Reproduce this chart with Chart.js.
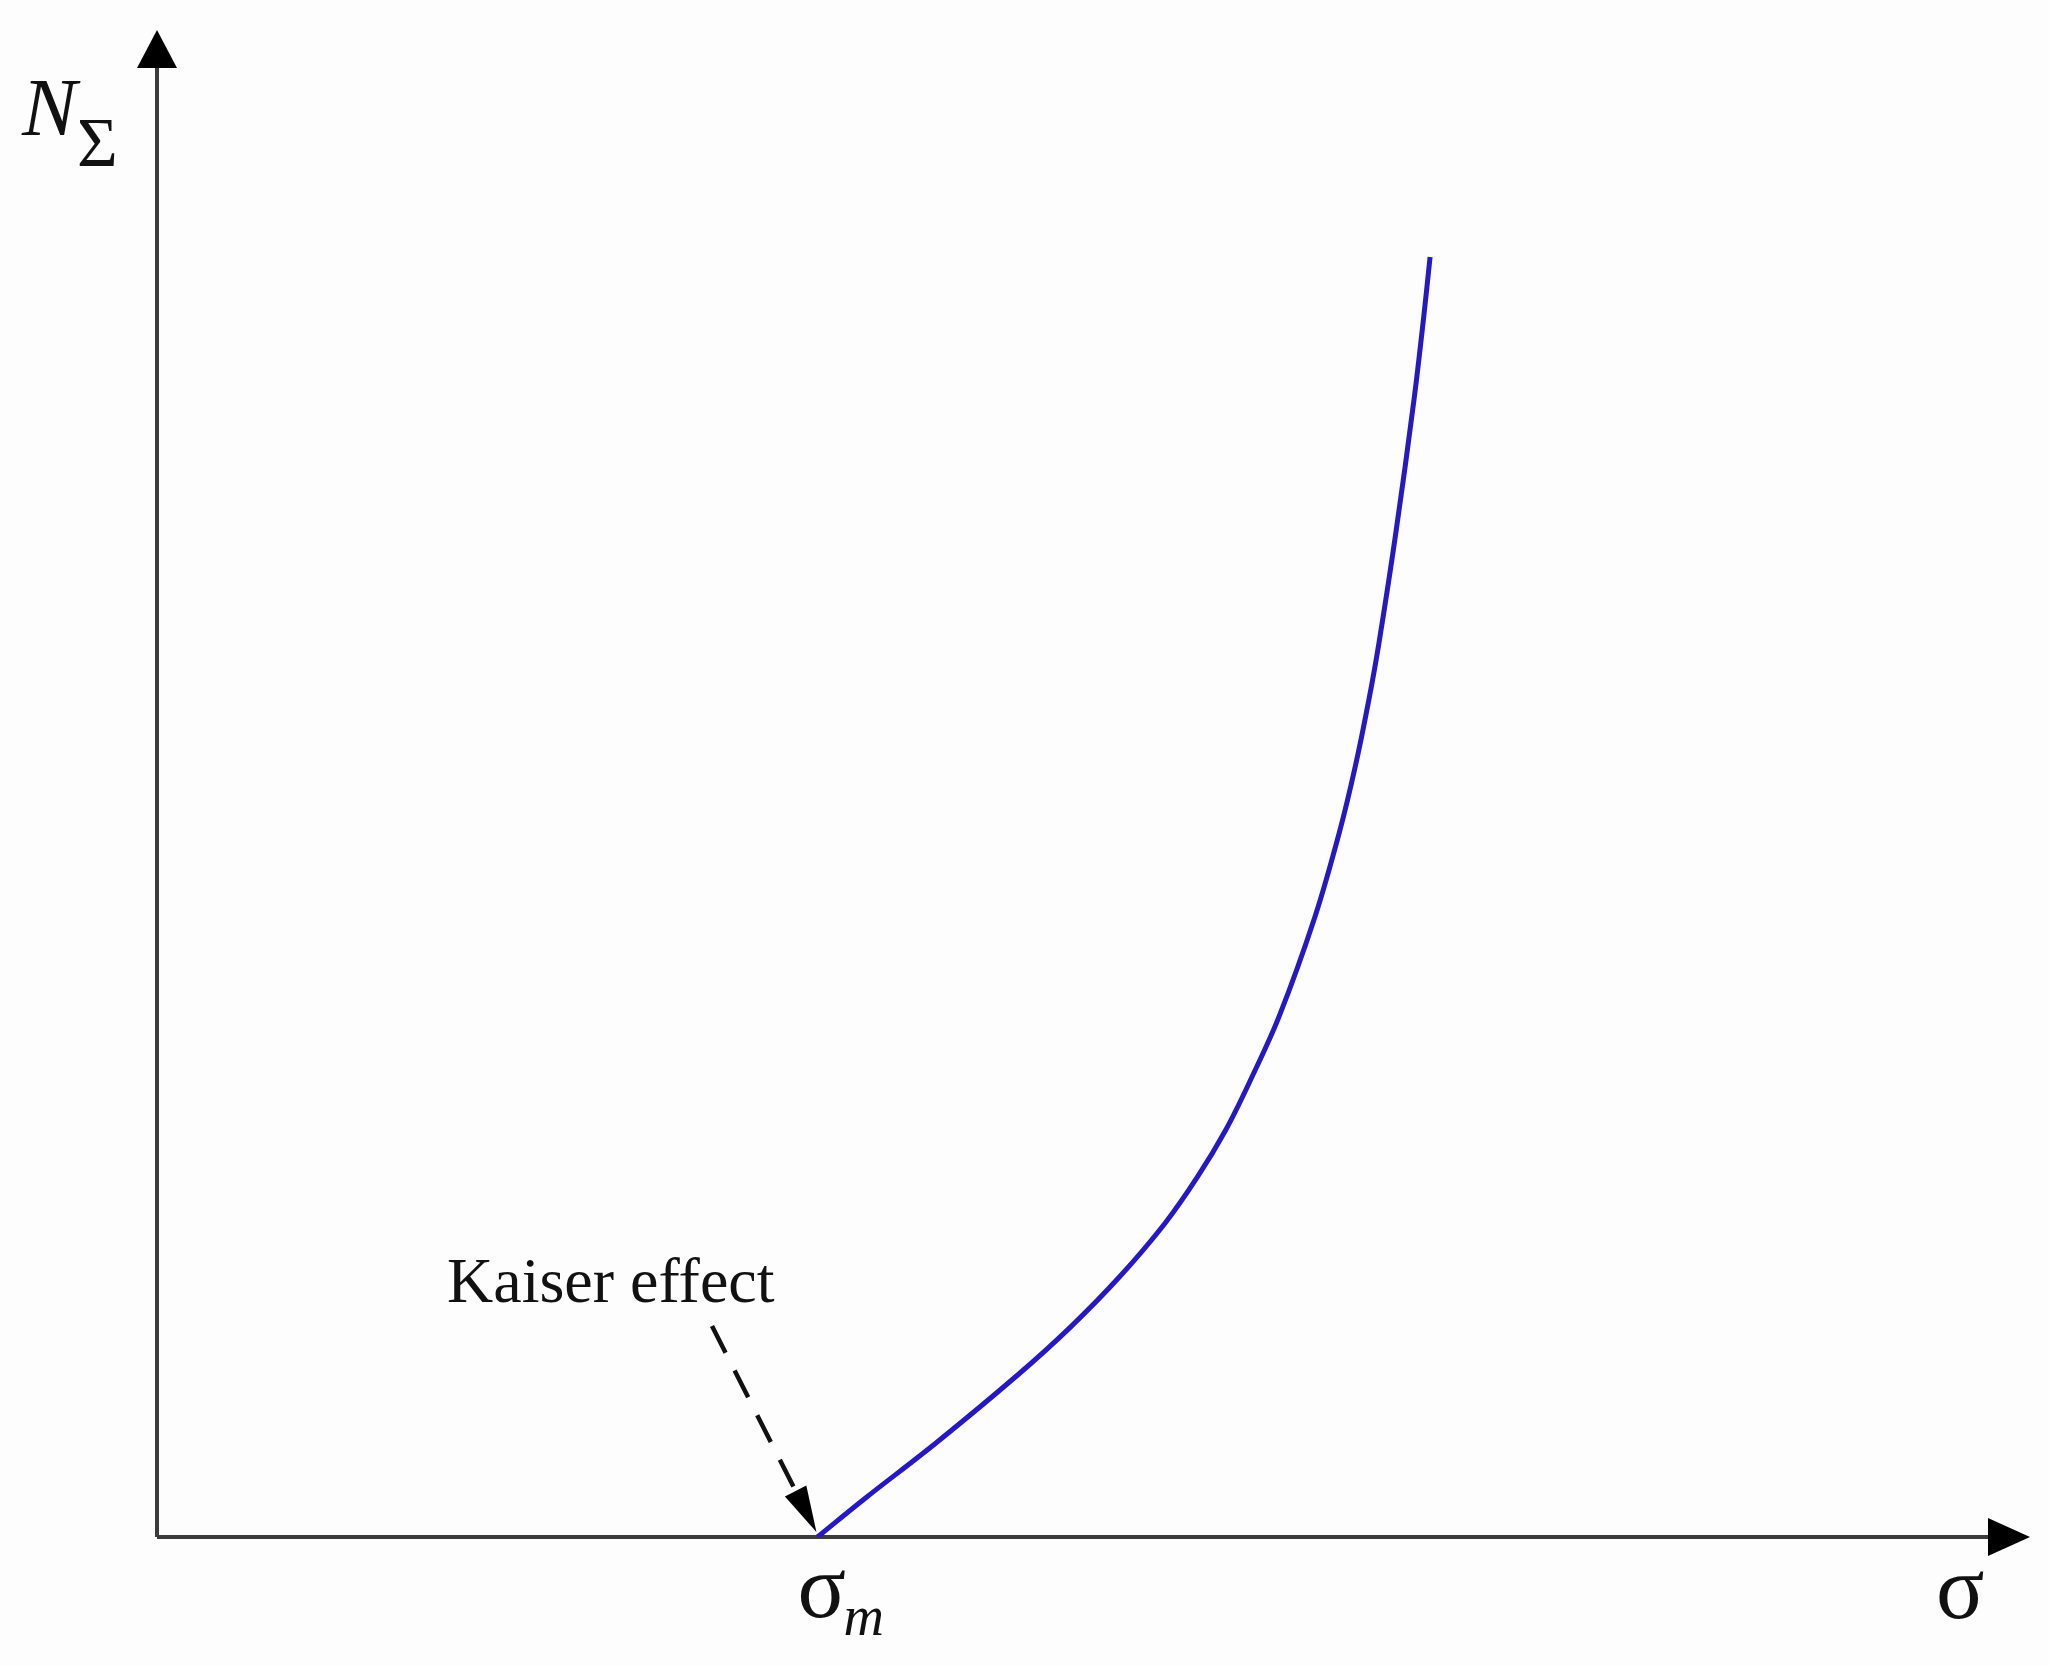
<!DOCTYPE html>
<html>
<head>
<meta charset="utf-8">
<title>Kaiser effect</title>
<script src="https://cdn.jsdelivr.net/npm/chart.js@4/dist/chart.umd.min.js"></script>
<style>
  html, body { margin: 0; padding: 0; background: #fdfdfd; }
  #chart { display: block; }
</style>
</head>
<body>
<canvas id="chart" width="2049" height="1665"></canvas>
<script>
"use strict";
// stress (x) and cumulative AE count (y)
const sigma = [35.26, 37.83, 41.59, 45.95, 48.77, 51.38, 53.83, 55.55, 57.06, 58.31, 59.90, 61.82, 63.12, 63.97, 64.70, 65.24, 66.14, 67.11, 67.63, 67.97];
const counts = [0, 2.59, 6.24, 10.75, 13.93, 17.25, 20.84, 23.89, 27.01, 30.13, 34.51, 41.14, 46.72, 51.09, 55.54, 59.32, 66.62, 75.45, 80.96, 84.94];
const sigmaMax = 100;
const countMax = 100;
const annotationText = "Kaiser effect";
const xLabel = "σ";
const markLabel = ["σ", "m"];
const yLabel = ["N", "Σ"];

const points = sigma.map((s, i) => ({ x: s, y: counts[i] }));

function arrowHead(ctx, tipX, tipY, angle, len, half) {
    ctx.save();
    ctx.translate(tipX, tipY);
    ctx.rotate(angle);
    ctx.beginPath();
    ctx.moveTo(0, 0);
    ctx.lineTo(-len, -half);
    ctx.lineTo(-len, half);
    ctx.closePath();
    ctx.fill();
    ctx.restore();
}

// axes with arrows, drawn under the curve
const axesPlugin = {
    id: "axesArrows",
    beforeDatasetsDraw(chart) {
        const { ctx, chartArea, scales } = chart;
        const x0 = scales.x.getPixelForValue(0);
        const y0 = scales.y.getPixelForValue(0);
        ctx.save();
        ctx.strokeStyle = "#3c3c3c";
        ctx.fillStyle = "#000";
        ctx.lineWidth = 4;
        ctx.beginPath();
        ctx.moveTo(x0, y0);
        ctx.lineTo(x0, chartArea.top + 37);
        ctx.moveTo(x0, y0);
        ctx.lineTo(chartArea.right - 42, y0);
        ctx.stroke();
        arrowHead(ctx, x0, chartArea.top, -Math.PI / 2, 38, 20);
        arrowHead(ctx, chartArea.right, y0, 0, 42, 19);
        ctx.restore();
    },
    afterDraw(chart) {
        const { ctx, chartArea, scales } = chart;
        const y0 = scales.y.getPixelForValue(0);
        const mx = scales.x.getPixelForValue(sigma[0]);
        const my = scales.y.getPixelForValue(counts[0]);
        ctx.save();
        ctx.fillStyle = "#111";
        ctx.textBaseline = "alphabetic";

        // N_Σ
        ctx.font = "italic 82px 'Liberation Serif'";
        ctx.fillText(yLabel[0], 22, 135);
        ctx.font = "70px 'Liberation Serif'";
        ctx.fillText(yLabel[1], 77, 166);

        // σ at the end of the x axis
        ctx.font = "90px 'Liberation Serif'";
        ctx.fillText(xLabel, chartArea.right - 94, y0 + 81);

        // σ_m under the start of the curve
        ctx.fillText(markLabel[0], mx - 20, y0 + 80);
        ctx.font = "italic 56px 'Liberation Serif'";
        ctx.fillText(markLabel[1], mx + 26, y0 + 98);

        // Kaiser effect annotation
        ctx.font = "64px 'Liberation Serif'";
        ctx.fillText(annotationText, 447, 1302);

        // dashed arrow down to σ_m
        const sx = 712, sy = 1326;
        const tipX = mx - 1, tipY = my - 5;
        const ang = Math.atan2(tipY - sy, tipX - sx);
        const headLen = 46;
        const ex = tipX - Math.cos(ang) * headLen;
        const ey = tipY - Math.sin(ang) * headLen;
        ctx.strokeStyle = "#111";
        ctx.lineWidth = 4.5;
        ctx.setLineDash([30, 20]);
        ctx.beginPath();
        ctx.moveTo(sx, sy);
        ctx.lineTo(ex, ey);
        ctx.stroke();
        ctx.setLineDash([]);
        ctx.fillStyle = "#000";
        arrowHead(ctx, tipX, tipY, ang, headLen, 12);
        ctx.restore();
    }
};

new Chart(document.getElementById("chart"), {
    type: "scatter",
    data: {
        datasets: [{
            data: points,
            showLine: true,
            borderColor: "#2418c8",
            borderWidth: 5,
            pointRadius: 0,
            tension: 0.35,
            fill: false
        }]
    },
    options: {
        responsive: false,
        animation: false,
        layout: { padding: { left: 157, right: 19, top: 30, bottom: 128 } },
        plugins: {
            legend: { display: false },
            tooltip: { enabled: false },
            title: { display: false }
        },
        scales: {
            x: { type: "linear", min: 0, max: sigmaMax, display: false },
            y: { type: "linear", min: 0, max: countMax, display: false }
        }
    },
    plugins: [axesPlugin]
});
</script>
</body>
</html>
